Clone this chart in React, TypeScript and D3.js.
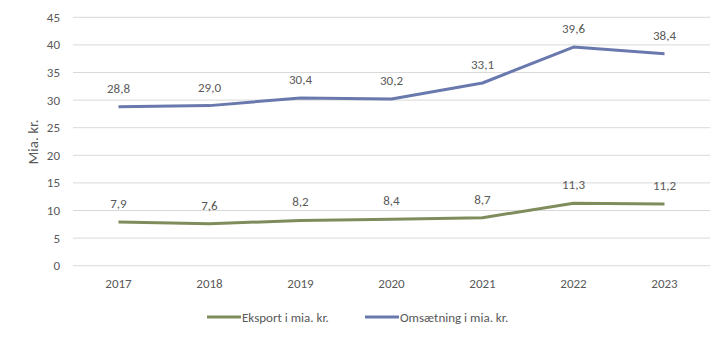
import React from "react";
import * as d3 from "d3";

const years = ["2017", "2018", "2019", "2020", "2021", "2022", "2023"];
const eksport = [7.9, 7.6, 8.2, 8.4, 8.7, 11.3, 11.2];
const omsaetning = [28.8, 29.0, 30.4, 30.2, 33.1, 39.6, 38.4];
const yTicks = [0, 5, 10, 15, 20, 25, 30, 35, 40, 45];
const seriesNames = ["Eksport i mia. kr.", "Omsætning i mia. kr."];
const colors = ["#7f8c5c", "#6a79ad"];

export default function App() {
  const W = 728, H = 341;
  const x = d3.scaleBand().domain(years).range([73, 710]);
  const y = d3.scaleLinear().domain([0, 45]).range([265.7, 17.3]);
  const line = d3
    .line<number>()
    .x((_, i) => (x(years[i]) as number) + x.bandwidth() / 2)
    .y((d) => y(d));
  const font = "Calibri, Carlito, Lato, 'Open Sans', sans-serif";
  const textColor = "#595959";
  const series = [eksport, omsaetning];
  const fmt = (v: number) => v.toFixed(1).replace(".", ",");
  return (
    <svg width={W} height={H} style={{ position: "absolute", left: 0, top: 0 }} fontFamily={font}>
      <rect width={W} height={H} fill="#fff" />
      {yTicks.map((t) => (
        <g key={t}>
          <line x1={73} x2={710} y1={y(t)} y2={y(t)} stroke="#d9d9d9" strokeWidth={1} />
          <text x={60} y={y(t)} dy="0.35em" textAnchor="end" fontSize={13} fill={textColor}>
            {t}
          </text>
        </g>
      ))}
      {years.map((yr) => (
        <text key={yr} x={(x(yr) as number) + x.bandwidth() / 2} y={288} textAnchor="middle" fontSize={13} fill={textColor}>
          {yr}
        </text>
      ))}
      <text transform="translate(38,142) rotate(-90)" textAnchor="middle" fontSize={15} fill={textColor}>
        Mia. kr.
      </text>
      {series.map((s, si) => (
        <g key={si}>
          <path d={line(s) as string} fill="none" stroke={colors[si]} strokeWidth={3} strokeLinejoin="round" />
          {s.map((v, i) => (
            <text key={i} x={(x(years[i]) as number) + x.bandwidth() / 2} y={y(v) - 14} textAnchor="middle" fontSize={13} fill={textColor}>
              {fmt(v)}
            </text>
          ))}
        </g>
      ))}
      {[0, 1].map((i) => {
        const lx = i === 0 ? 207 : 365;
        return (
          <g key={i}>
            <line x1={lx} x2={lx + 34} y1={317} y2={317} stroke={colors[i]} strokeWidth={3} />
            <text x={lx + 35} y={317} dy="0.35em" fontSize={13} fill={textColor}>
              {seriesNames[i]}
            </text>
          </g>
        );
      })}
    </svg>
  );
}
